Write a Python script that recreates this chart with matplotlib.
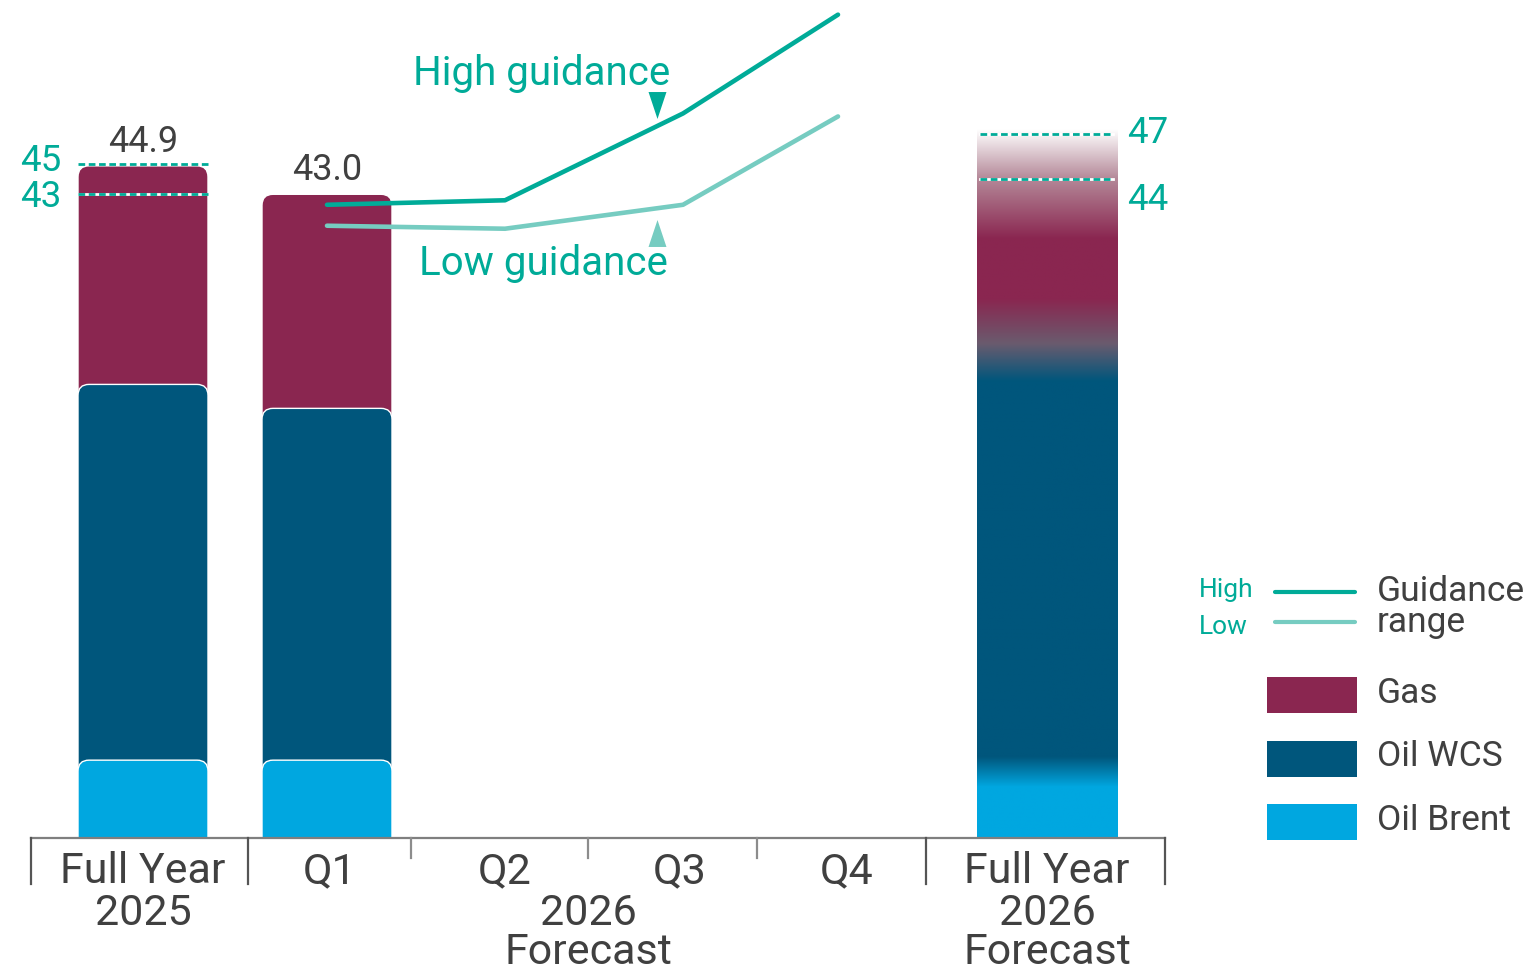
import numpy as np
import matplotlib
matplotlib.use("Agg")
import matplotlib.pyplot as plt
from matplotlib.patches import FancyBboxPatch, Rectangle
from matplotlib.path import Path
from matplotlib.colors import to_rgb

plt.rcParams['font.family'] = ['Roboto', 'DejaVu Sans']

# ---------------- data ----------------
x_labels = ["Full Year\n2025", "Q1", "Q2", "Q3", "Q4", "Full Year\n2026\nForecast"]
group_label = "2026\nForecast"
series = ["Gas", "Oil WCS", "Oil Brent"]

# stacked bars: Full Year 2025, Q1 2026, Full Year 2026 forecast
oil_brent = [5.2, 5.2, 5.2]
oil_wcs = [25.1, 23.5, 25.3]
gas = [14.6, 14.3, 16.5]

quarters = ["Q1", "Q2", "Q3", "Q4"]
guidance_high = [42.3, 42.6, 48.4, 55.0]
guidance_low = [40.9, 40.7, 42.3, 48.2]

range_2025 = [43, 45]
range_2026 = [44, 47]

# ---------------- style / layout ----------------
GAS = "#8A2650"
WCS = "#00567C"
BRENT = "#00A7E0"
TEAL = "#00AB98"
TEAL_L = "#76CCC1"
GRAY = "#404040"

W, H = 1538, 973
BASE = 838.0      # pixel row of the zero line
PX = 14.97        # pixels per unit


def Y(p):
    return (BASE - p) / PX


fig = plt.figure(figsize=(W / 100, H / 100), dpi=100)
ax = fig.add_axes([0, 0, 1, 1])
ax.axis('off')

bar_x = [143, 327, 1047.5]
bar_w = [130, 130, 141]
clip = Rectangle((0, 0), W, 100, transform=ax.transData)

# actual bars (rounded, stacked by overlaying cumulative bars)
for i in range(2):
    b = oil_brent[i]
    w = b + oil_wcs[i]
    t = w + gas[i]
    for top, col in [(t, GAS), (w, WCS), (b, BRENT)]:
        p = FancyBboxPatch((bar_x[i] - bar_w[i] / 2, -2), bar_w[i], top + 2,
                           boxstyle="round,pad=0,rounding_size=11",
                           mutation_aspect=1 / PX, fc=col, ec='white',
                           lw=1.0, zorder=2)
        ax.add_patch(p)
        p.set_clip_path(clip)
    ax.text(bar_x[i], t + 0.95, f"{t:.1f}", ha='center', va='baseline',
            fontsize=26, color=GRAY, zorder=5)

# forecast bar with gradient
b = oil_brent[2]
w = b + oil_wcs[2]
t = w + gas[2]
ys = np.linspace(0, t + 0.3, 900)
stop_y = [0, b - 1.8, b + 0.2, w, w + 2.5, w + 5.5, w + 9.5, t - 3, t + 0.3]
stop_c = [BRENT, BRENT, WCS, WCS, "#6A5B6E", GAS, GAS, "#B48898", "#FFFFFF"]
rgb = np.array([to_rgb(c) for c in stop_c])
img = np.stack([np.interp(ys, stop_y, rgb[:, k]) for k in range(3)], axis=-1)[:, None, :]
x0 = bar_x[2] - bar_w[2] / 2
ax.imshow(img, extent=[x0, x0 + bar_w[2], 0, t + 0.3], origin='lower',
          aspect='auto', interpolation='bilinear', zorder=2)

# guidance range dashed lines
for rng, (xa, xb) in [(range_2025, (78, 211)), (range_2026, (980, 1113))]:
    for v in rng:
        ax.plot([xa, xb], [v, v], color='white', lw=2.0, zorder=3)
        ax.plot([xa, xb], [v, v], color=TEAL, lw=2.0, dashes=(2.4, 1.3), zorder=3.5)

ax.text(61, Y(171), f"{range_2025[1]}", ha='right', va='baseline', fontsize=26.5, color=TEAL)
ax.text(61, Y(207), f"{range_2025[0]}", ha='right', va='baseline', fontsize=26.5, color=TEAL)
ax.text(1127, Y(143), f"{range_2026[1]}", ha='left', va='baseline', fontsize=26.5, color=TEAL)
ax.text(1127, Y(210), f"{range_2026[0]}", ha='left', va='baseline', fontsize=26.5, color=TEAL)

# guidance lines
qx = [327, 505, 683, 838]
ax.plot(qx, guidance_high, color=TEAL, lw=3.3, solid_capstyle='round',
        solid_joinstyle='round', zorder=4)
ax.plot(qx, guidance_low, color=TEAL_L, lw=3.3, solid_capstyle='round',
        solid_joinstyle='round', zorder=4)

ax.text(542, Y(85), "High guidance", ha='center', va='baseline', fontsize=29, color=TEAL)
ax.text(543, Y(275), "Low guidance", ha='center', va='baseline', fontsize=29, color=TEAL)
tri_down = Path([(-0.333, 0.5), (0.333, 0.5), (0, -0.5), (-0.333, 0.5)],
                [Path.MOVETO, Path.LINETO, Path.LINETO, Path.CLOSEPOLY])
tri_up = Path([(-0.333, -0.5), (0.333, -0.5), (0, 0.5), (-0.333, -0.5)],
              [Path.MOVETO, Path.LINETO, Path.LINETO, Path.CLOSEPOLY])
ax.plot([657], [Y(104.5)], marker=tri_down, ms=19.4, color=TEAL, mew=0, zorder=5)
ax.plot([657], [Y(233.5)], marker=tri_up, ms=19.4, color=TEAL_L, mew=0, zorder=5)

# axis line & ticks
ax.plot([31, 1165], [0, 0], color="#7F7F7F", lw=1.6, zorder=3)
for x in [31, 248, 926, 1165]:
    ax.plot([x, x], [0, Y(884)], color="#555555", lw=1.6, zorder=3)
for x in [411, 588, 757]:
    ax.plot([x, x], [0, Y(858)], color="#8C8C8C", lw=1.6, zorder=3)

label_x = [143, 330, 505, 680, 847, 1047]
line_base = [883, 925, 964]
for lab, x in zip(x_labels, label_x):
    for k, line in enumerate(lab.split("\n")):
        ax.text(x, Y(line_base[k]), line, ha='center', va='baseline',
                fontsize=31, color=GRAY)
for k, line in enumerate(group_label.split("\n")):
    ax.text(588, Y(line_base[k + 1]), line, ha='center', va='baseline',
            fontsize=31, color=GRAY)

# legend
ax.text(1199, Y(597), "High", color=TEAL, fontsize=19, va='baseline')
ax.text(1199, Y(634), "Low", color=TEAL, fontsize=19, va='baseline')
ax.plot([1275, 1355], [Y(591.5)] * 2, color=TEAL, lw=3.0, solid_capstyle='round')
ax.plot([1275, 1355], [Y(621.5)] * 2, color=TEAL_L, lw=3.0, solid_capstyle='round')
ax.text(1377, Y(601), "Guidance", fontsize=25.5, color=GRAY, va='baseline')
ax.text(1377, Y(632), "range", fontsize=25.5, color=GRAY, va='baseline')
for k, (name, col) in enumerate(zip(series, [GAS, WCS, BRENT])):
    top = 677 + 63.5 * k
    ax.add_patch(Rectangle((1267, Y(top + 36)), 90, 36 / PX, fc=col, ec='none'))
    ax.text(1377, Y(top + 26), name, va='baseline', fontsize=25.5, color=GRAY)

ax.set_xlim(0, W)
ax.set_ylim(Y(H), Y(0))
fig.savefig("out.png", dpi=100)
